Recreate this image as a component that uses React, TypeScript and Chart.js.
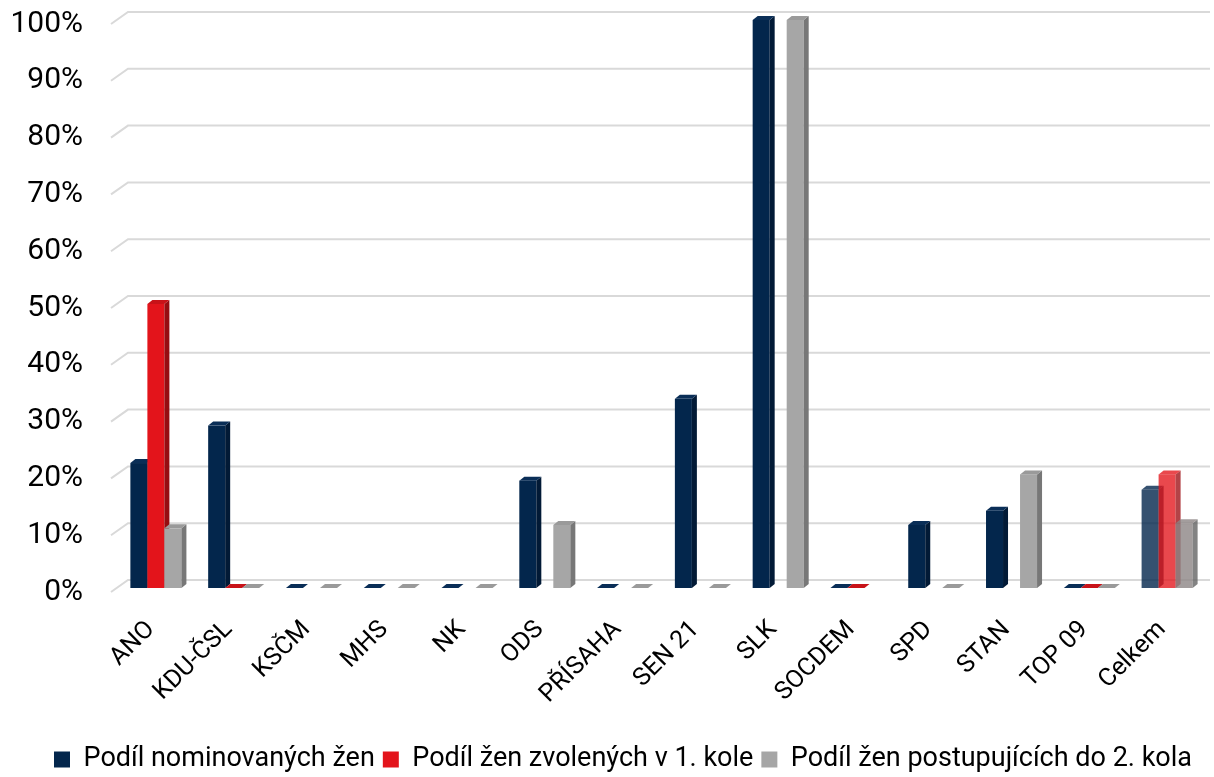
import React, { useEffect, useRef } from "react";
import { Chart, registerables } from "chart.js";

Chart.register(...registerables);

const categories = ["ANO", "KDU-ČSL", "KSČM", "MHS", "NK", "ODS", "PŘÍSAHA", "SEN 21", "SLK", "SOCDEM", "SPD", "STAN", "TOP 09", "Celkem"];
const nominated = [22, 28.6, 0, 0, 0, 18.9, 0, 33.3, 100, 0, 11.1, 13.6, 0, 17.3];
const elected1 = [50, 0, null, null, null, null, null, null, null, 0, null, null, 0, 20];
const advancing2 = [10.5, 0, 0, 0, 0, 11.1, 0, 0, 100, null, 0, 20, 0, 11.4];
const seriesNames = ["Podíl nominovaných žen", "Podíl žen zvolených v 1. kole", "Podíl žen postupujících do 2. kola"];
const yTicks = [0, 10, 20, 30, 40, 50, 60, 70, 80, 90, 100];

const FONT = "Roboto";
const frontColors = ["#03264c", "#e3141b", "#a6a6a6"];
const sideColors = ["#021a36", "#960d11", "#777777"];
const topColors = ["#0a2e57", "#c81218", "#9a9a9a"];
const lastFront = ["rgba(3,38,76,0.80)", "rgba(227,20,27,0.78)", "rgba(140,132,132,0.80)"];
const lastSide = ["rgba(2,26,54,0.80)", "rgba(160,20,25,0.80)", "rgba(100,100,100,0.80)"];
const lastTop = ["rgba(3,38,76,0.80)", "rgba(227,20,27,0.78)", "rgba(140,132,132,0.80)"];

const DX = 5;
const DY = 4;
const AREA_TOP = 20;
const AREA_BOTTOM = 588;
const AREA_LEFT = 117;
const PAD_LEFT = 40;
const PAD_BOTTOM = -6;
const Y_LABEL_RIGHT = 83;

const bars3d = {
  id: "bars3d",
  beforeDatasetsDraw(chart: any) {
    const ctx = chart.ctx;
    const area = chart.chartArea;
    const y = chart.scales.y;
    ctx.save();
    ctx.strokeStyle = "#d9d9d9";
    ctx.lineWidth = 2;
    y.ticks.forEach((t: any) => {
      const py = y.getPixelForValue(t.value);
      ctx.beginPath();
      ctx.moveTo(area.left - 6, py + 4);
      ctx.lineTo(area.left + 11, py - 8);
      ctx.lineTo(area.right + 4, py - 8);
      ctx.stroke();
    });
    ctx.fillStyle = "#000";
    ctx.font = `30px ${FONT}`;
    ctx.textAlign = "right";
    ctx.textBaseline = "middle";
    y.ticks.forEach((t: any) => {
      const py = y.getPixelForValue(t.value);
      ctx.fillText(t.value + "%", Y_LABEL_RIGHT, py + 4);
    });
    const n = categories.length;
    chart.data.datasets.forEach((ds: any, di: number) => {
      const meta = chart.getDatasetMeta(di);
      meta.data.forEach((el: any, j: number) => {
        const v = ds.data[j];
        if (v === null || v === undefined) return;
        const p = el.getProps(["x", "y", "base", "width"], true);
        const l = p.x - p.width / 2;
        const r = p.x + p.width / 2;
        const top = p.y;
        const base = p.base;
        const isLast = j === n - 1;
        const fc = isLast ? lastFront[di] : frontColors[di];
        const sc = isLast ? lastSide[di] : sideColors[di];
        const tc = isLast ? lastTop[di] : topColors[di];
        if (base - top > 0.5) {
          ctx.fillStyle = fc;
          ctx.fillRect(l, top, p.width, base - top);
          ctx.fillStyle = sc;
          ctx.beginPath();
          ctx.moveTo(r, top);
          ctx.lineTo(r + DX, top - DY);
          ctx.lineTo(r + DX, base - DY);
          ctx.lineTo(r, base);
          ctx.closePath();
          ctx.fill();
        }
        ctx.fillStyle = tc;
        ctx.beginPath();
        ctx.moveTo(l, top);
        ctx.lineTo(l + DX, top - DY);
        ctx.lineTo(r + DX, top - DY);
        ctx.lineTo(r, top);
        ctx.closePath();
        ctx.fill();
      });
    });
    ctx.restore();
    return false;
  },
};

export default function App() {
  const ref = useRef<HTMLCanvasElement | null>(null);
  useEffect(() => {
    if (!ref.current) return;
    const chart = new Chart(ref.current, {
      type: "bar",
      data: {
        labels: categories,
        datasets: [
          { label: seriesNames[0], data: nominated, backgroundColor: frontColors[0] },
          { label: seriesNames[1], data: elected1 as any, backgroundColor: frontColors[1] },
          { label: seriesNames[2], data: advancing2 as any, backgroundColor: frontColors[2] },
        ],
      },
      options: {
        animation: false,
        responsive: false,
        maintainAspectRatio: false,
        devicePixelRatio: 1,
        layout: { padding: { top: AREA_TOP, right: 8, left: PAD_LEFT, bottom: PAD_BOTTOM } },
        datasets: { bar: { categoryPercentage: 0.656, barPercentage: 1.0 } },
        plugins: {
          tooltip: { enabled: false },
          legend: {
            position: "bottom",
            labels: {
              boxWidth: 16,
              boxHeight: 16,
              padding: 8,
              color: "#000",
              font: { family: FONT, size: 27 },
            },
          },
        },
        scales: {
          x: {
            grid: { display: false, drawTicks: false },
            border: { display: false },
            ticks: {
              color: "#000",
              font: { family: FONT, size: 25 },
              minRotation: 45,
              maxRotation: 45,
              padding: 27,
              labelOffset: -5,
              autoSkip: false,
            },
            afterFit(scale: any) {
              const lh = scale.chart.legend ? scale.chart.legend.height : 45;
              scale.height = 777 - AREA_BOTTOM - lh - PAD_BOTTOM;
              scale.paddingLeft = 0;
              scale.paddingRight = 0;
            },
          },
          y: {
            min: 0,
            max: 100,
            grid: { display: false, drawTicks: false },
            border: { display: false },
            ticks: {
              stepSize: 10,
              display: false,
            },
            afterFit(scale: any) {
              scale.width = AREA_LEFT - PAD_LEFT;
              scale.paddingTop = 0;
              scale.paddingBottom = 0;
            },
          },
        },
      },
      plugins: [bars3d],
    });
    return () => chart.destroy();
  }, []);
  return (
    <div style={{ position: "fixed", left: 0, top: 0, width: 1214, height: 777, background: "#fff" }}>
      <canvas ref={ref} width={1214} height={777} style={{ width: 1214, height: 777, display: "block" }} />
    </div>
  );
}
